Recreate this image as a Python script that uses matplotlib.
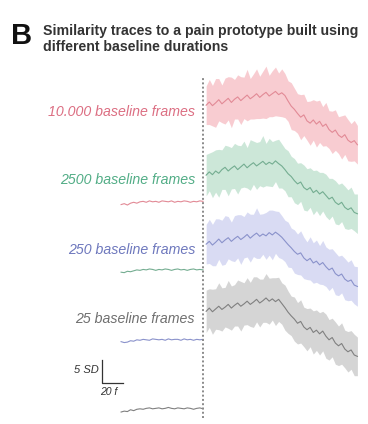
import numpy as np
import matplotlib
matplotlib.use("Agg")
from matplotlib import pyplot as plt

plt.rcParams['font.family'] = ['Liberation Sans', 'DejaVu Sans']

# trace labels and colours (text / mean line / band)
labels = ['10.000 baseline frames', '2500 baseline frames',
          '250 baseline frames', '25 baseline frames']
text_colors = ['#dc6e82', '#52ad86', '#6e78bd', '#6f6f6f']
line_colors = ['#e28a96', '#74ad91', '#8a92cb', '#808080']
band_colors = ['#f7c0c6', '#c0e1cf', '#d0d3f1', '#cbcbcb']

# frames relative to stimulus onset
base_frames = np.arange(-78, 1, 3)
post_frames = np.arange(3, 148, 3)

# similarity (SD units) before onset
red_base = [-0.6, -0.4, -0.7, -0.3, -0.1, -0.3, 0.0, 0.1, -0.1, 0.2, 0.0, 0.1, -0.1, 0.2,
            0.1, 0.0, 0.2, -0.1, 0.1, 0.0, 0.2, 0.1, -0.1, 0.1, 0.0, 0.2, 0.1]
green_base = [-0.5, -0.6, -0.3, -0.4, -0.2, 0.0, -0.1, 0.1, 0.0, 0.2, 0.1, -0.1, 0.1, 0.0,
              0.2, 0.1, -0.1, 0.1, 0.2, 0.0, 0.1, -0.1, 0.1, 0.2, 0.0, 0.1, 0.0]
blue_base = [-0.4, -0.6, -0.5, -0.2, -0.3, 0.0, -0.1, 0.1, 0.0, -0.1, 0.2, 0.1, 0.0, 0.1,
             -0.1, 0.2, 0.0, 0.1, 0.1, -0.1, 0.2, 0.0, 0.1, -0.1, 0.1, 0.0, 0.1]
grey_base = [-0.7, -0.5, -0.6, -0.2, -0.4, -0.1, 0.0, -0.1, 0.1, 0.2, 0.0, 0.1, 0.2, 0.0,
             0.1, 0.3, 0.1, 0.0, 0.2, 0.1, 0.0, 0.2, 0.1, -0.1, 0.1, 0.2, 0.0]

# mean similarity (SD units) after onset
red_mean = [21.0, 21.7, 20.9, 21.5, 22.2, 21.3, 21.9, 22.5, 21.6, 22.3, 22.8, 22.0, 22.6,
            23.2, 22.4, 22.9, 23.5, 22.7, 23.3, 23.8, 23.0, 23.5, 24.0, 23.3, 23.7, 23.1,
            21.9, 20.8, 20.1, 19.2, 18.4, 18.9, 17.6, 17.1, 17.8, 16.9, 17.5, 16.4, 16.9,
            15.7, 15.1, 15.6, 14.5, 14.0, 14.6, 13.4, 12.9, 13.3, 12.4]
green_mean = [20.6, 21.3, 20.7, 21.5, 21.0, 21.8, 22.3, 21.5, 22.1, 22.6, 21.8, 22.4, 23.0,
              22.2, 22.8, 23.3, 22.6, 23.1, 23.6, 22.9, 23.4, 23.0, 23.7, 23.1, 22.6, 21.8,
              20.9, 20.3, 19.4, 18.7, 19.1, 17.9, 17.4, 17.9, 16.8, 17.3, 16.5, 17.0, 16.2,
              15.4, 15.8, 14.7, 14.2, 14.7, 13.6, 13.1, 13.5, 12.5, 12.2]
blue_mean = [20.8, 21.4, 20.6, 21.2, 21.9, 21.1, 21.7, 22.2, 21.4, 22.0, 22.5, 21.8, 22.3,
             22.9, 22.1, 22.7, 23.2, 22.5, 23.0, 22.6, 23.3, 22.8, 23.4, 22.9, 22.3, 21.5,
             20.7, 20.0, 19.2, 18.6, 18.9, 17.8, 17.2, 17.7, 16.7, 17.1, 16.3, 16.8, 15.9,
             15.2, 15.6, 14.4, 13.9, 14.3, 13.2, 12.7, 13.0, 11.9, 11.6]
grey_mean = [21.2, 21.9, 21.1, 21.7, 22.3, 21.6, 22.1, 22.7, 21.9, 22.5, 23.0, 22.3, 22.8,
             23.4, 22.7, 23.2, 23.8, 23.0, 23.5, 24.1, 23.4, 23.9, 23.3, 23.8, 22.9, 22.0,
             21.0, 20.2, 19.5, 18.6, 19.0, 17.8, 17.2, 17.7, 16.6, 17.1, 16.3, 16.9, 15.8,
             15.0, 15.5, 14.3, 13.7, 14.2, 13.0, 12.4, 12.8, 11.7, 11.4]

# half-width of the shaded band (SD units)
red_band = [4.2, 4.9, 4.4, 5.3, 4.6, 4.1, 5.0, 4.7, 5.5, 4.3, 4.8, 5.2, 4.5, 5.6, 4.4, 4.9,
            5.4, 4.6, 5.1, 5.7, 4.5, 5.0, 5.3, 4.7, 5.2, 4.8, 4.4, 5.1, 4.6, 4.3, 4.9, 4.5,
            4.2, 4.8, 4.4, 5.0, 4.6, 4.3, 4.7, 4.1, 4.6, 4.4, 4.0, 4.7, 4.3, 4.5, 4.1, 4.4, 4.2]
green_band = [4.5, 4.1, 5.0, 4.6, 5.2, 4.3, 4.8, 5.4, 4.5, 4.9, 5.3, 4.6, 5.0, 4.4, 5.5, 4.7,
              5.1, 4.8, 5.6, 4.6, 5.2, 4.9, 4.5, 5.3, 4.8, 4.6, 5.0, 4.4, 4.8, 4.5, 4.2, 4.9,
              4.6, 4.3, 4.8, 4.4, 4.7, 4.2, 4.6, 4.5, 4.1, 4.7, 4.4, 4.2, 4.6, 4.3, 4.5, 4.0, 4.3]
blue_band = [4.3, 4.8, 4.5, 5.1, 4.4, 4.9, 5.3, 4.6, 4.2, 5.0, 4.7, 5.4, 4.5, 4.9, 5.2, 4.6,
             5.5, 4.8, 4.4, 5.1, 4.9, 5.4, 4.6, 5.0, 4.7, 4.5, 4.9, 4.3, 4.7, 4.4, 4.8, 4.5,
             4.1, 4.7, 4.4, 4.6, 4.2, 4.8, 4.3, 4.5, 4.2, 4.6, 4.3, 4.1, 4.5, 4.2, 4.4, 4.1, 4.3]
grey_band = [4.6, 4.2, 4.9, 4.4, 5.1, 4.7, 4.3, 5.2, 4.8, 4.5, 5.0, 5.4, 4.6, 5.1, 4.8, 5.5,
             4.9, 5.2, 4.7, 5.3, 5.0, 4.6, 5.2, 4.8, 4.5, 4.9, 4.6, 4.3, 4.8, 4.5, 4.7, 4.3,
             4.6, 4.2, 4.7, 4.4, 4.6, 4.3, 4.8, 4.4, 4.2, 4.6, 4.3, 4.5, 4.1, 4.4, 4.2, 4.5, 4.2]

bases = [red_base, green_base, blue_base, grey_base]
means = [red_mean, green_mean, blue_mean, grey_mean]
bands = [red_band, green_band, blue_band, grey_band]

# vertical stacking of the four traces
offsets = [48.3, 33.5, 18.3, 3.3]

fig = plt.figure(figsize=(3.68, 4.24), dpi=100)
ax = fig.add_axes([0, 0, 1, 1])
ax.set_xlim(-193.3, 157.1)
ax.set_ylim(0, 92.17)
ax.axis('off')

for base, mean, band, off, lab, tc, lc, bc in zip(bases, means, bands, offsets, labels,
                                                    text_colors, line_colors, band_colors):
    base = np.asarray(base) + off
    mean = np.asarray(mean) + off
    band = np.asarray(band)
    ax.plot(base_frames, base, color=lc, lw=0.8)
    ax.fill_between(post_frames, mean - band, mean + band, color=bc, alpha=0.8, lw=0)
    ax.plot(post_frames, mean, color=lc, lw=0.8)
    ax.text(-7.6, off + 19.5, lab, color=tc, fontsize=10.2, style='italic',
            ha='right', va='center')

# stimulus onset
ax.plot([0, 0], [1.3, 75.2], color='#8a8a8a', lw=1.4, ls=(0, (1, 1.2)))

# scale bar: 5 SD x 20 frames
ax.plot([-96.2, -96.2, -76.2], [13.9, 8.9, 8.9], color='#333333', lw=0.9)
ax.text(-99, 11.8, '5 SD', fontsize=8, style='italic', ha='right', va='center',
        color='#333333')
ax.text(-89.5, 6.9, '20 f', fontsize=7.5, style='italic', ha='center', va='center',
        color='#333333')

fig.text(11 / 368, 1 - 36 / 424, 'B', fontsize=21, fontweight='bold', va='center',
         ha='left', color='#111111')
fig.text(43 / 368, 1 - 39 / 424,
         'Similarity traces to a pain prototype built using\ndifferent baseline durations',
         fontsize=10.2, fontweight='bold', va='center', ha='left', color='#333333',
         linespacing=1.2)

fig.savefig('out.png', dpi=100)
